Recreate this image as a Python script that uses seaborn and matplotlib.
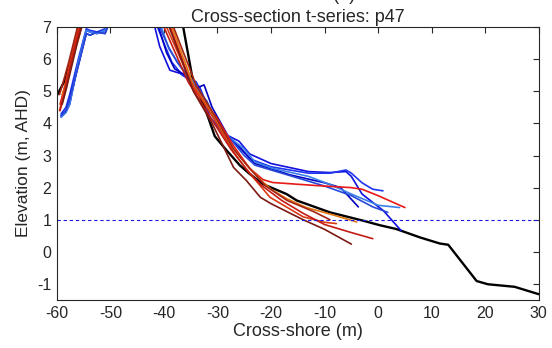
import numpy as np
import pandas as pd
import matplotlib
matplotlib.use("Agg")
import matplotlib.pyplot as plt
import seaborn as sns

# reference profile (black)
ref_x = [-60, -58.5, -57.5, -56.5, -55.8, -54, -40, -36.4, -34.6, -32.4, -30.5, -28.5,
         -25.8, -24, -21.5, -17.1, -15.2, -9, -2.8, 0.3, 3.4, 7.8, 11.5, 13.1, 18.4,
         20.5, 25.5, 30]
ref_z = [4.87, 5.34, 5.9, 6.6, 7.2, 8.5, 8.5, 7.0, 5.34, 4.5, 3.6, 3.2,
         2.69, 2.43, 2.11, 1.8, 1.6, 1.23, 0.97, 0.83, 0.71, 0.45, 0.26, 0.22, -0.91,
         -1.01, -1.09, -1.32]

# dune face (left) for each survey
dune_blue_x = [-59.2, -58.3, -57.6, -56.0, -54.5, -53.8, -52.5, -51.0, -50.3, -48, -44]
b1_z_dune = [4.2, 4.35, 4.6, 5.9, 6.9, 6.85, 6.8, 6.9, 7.2, 8.5, 8.5]
b2_z_dune = [4.3, 4.5, 4.9, 6.0, 6.95, 6.9, 6.85, 6.95, 7.2, 8.5, 8.5]
b3_z_dune = [4.25, 4.4, 4.75, 5.8, 6.8, 6.75, 6.85, 6.8, 7.1, 8.5, 8.5]
r1_dune_x = [-59.4, -58.6, -57.6, -56.6, -55.6, -53, -44]
r2_dune_x = [-59.0, -58.2, -57.2, -56.2, -55.2, -53, -44]
r3_dune_x = [-59.5, -58.8, -57.8, -56.9, -56.0, -53, -44]
r1_dune_z = [4.6, 5.1, 5.8, 6.5, 7.1, 8.5, 8.5]
r2_dune_z = [4.9, 5.3, 5.9, 6.5, 7.1, 8.5, 8.5]
r3_dune_z = [4.4, 4.9, 5.7, 6.4, 7.0, 8.5, 8.5]

# seaward part of each survey, earliest (blue) to latest (red)
b1_x = [-41.7, -40.8, -38.9, -37.0, -33.3, -32.7, -31.4, -29, -26, -24, -20, -13, -9, -6, -5, -3, 1, 4.3]
b1_z = [7.0, 6.4, 5.66, 5.56, 5.13, 4.82, 4.2, 3.7, 3.45, 3.05, 2.75, 2.5, 2.47, 2.5, 2.35, 1.8, 1.28, 0.66]
b2_x = [-41.2, -40, -38.5, -36.5, -34, -33, -31.5, -29, -26, -24, -20, -13, -9, -6, -5, -3, -1, 0.9]
b2_z = [7.0, 6.5, 5.9, 5.5, 5.3, 5.0, 4.4, 3.7, 3.3, 2.9, 2.65, 2.45, 2.45, 2.55, 2.45, 2.15, 1.95, 1.9]
b3_x = [-41.0, -39.5, -38.0, -36.0, -34, -32.5, -31, -28, -25, -23, -16.5, -10, -7, -3.7]
b3_z = [7.0, 6.2, 5.7, 5.5, 5.1, 5.2, 4.5, 3.6, 3.1, 2.75, 2.4, 2.15, 2.0, 1.4]
b4_x = [-40.5, -39, -37, -35, -33, -31, -28, -25, -23, -19.7, -13, -9, -5, 0, 4]
b4_z = [7.0, 6.3, 5.8, 5.4, 4.9, 4.3, 3.6, 3.2, 2.8, 2.6, 2.35, 2.1, 1.8, 1.45, 1.38]
b5_x = [-40.8, -39.2, -37.5, -35.5, -33.5, -32, -30, -27.5, -25, -23, -16, -10, -5, -1, 1.8]
b5_z = [7.0, 6.4, 5.9, 5.45, 5.0, 4.7, 4.0, 3.5, 3.0, 2.7, 2.35, 2.05, 1.75, 1.4, 1.23]

r1_x = [-38.8, -34.6, -30.2, -27, -24, -21.5, -19.7, -12, -5, -3, 0, 5]
r1_z = [7.0, 5.1, 4.2, 3.3, 2.6, 2.25, 2.16, 2.07, 2.0, 1.95, 1.75, 1.38]
r2_x = [-38.5, -34.5, -30.5, -27.5, -24.5, -22, -20, -17, -13.4, -7.8, -4]
r2_z = [7.0, 5.2, 4.2, 3.3, 2.7, 2.25, 1.95, 1.65, 1.38, 1.12, 0.93]
r3_x = [-39.5, -35, -30.5, -27, -24, -20.2, -14, -10, -7.8]
r3_z = [7.0, 5.3, 4.1, 3.1, 2.45, 1.7, 1.09, 0.92, 0.88]
r4_x = [-40, -35.5, -31, -27.5, -24.5, -22, -18, -14, -10, -5, -1]
r4_z = [7.0, 5.3, 4.1, 3.2, 2.55, 2.1, 1.6, 1.2, 0.85, 0.6, 0.41]
r5_x = [-39, -34.5, -31, -27, -24.6, -22, -20, -14, -10, -5]
r5_z = [7.0, 5.0, 4.0, 2.63, 2.22, 1.7, 1.5, 1.0, 0.7, 0.24]
r6_x = [-38.2, -34, -30, -27, -24, -21, -17, -12, -9]
r6_z = [7.0, 5.2, 4.1, 3.2, 2.6, 2.05, 1.6, 1.25, 1.0]

survey_colors = {
    "b1": "#1010e0", "b2": "#2035f0", "b3": "#0000c0", "b4": "#3a80e8", "b5": "#2848d8",
    "r1": "#e81818", "r2": "#e07410", "r3": "#d83a12", "r4": "#c41c14",
    "r5": "#7c1a12", "r6": "#a42414",
}

profiles = [
    ("b1", dune_blue_x, b1_z_dune, b1_x, b1_z),
    ("b2", dune_blue_x, b2_z_dune, b2_x, b2_z),
    ("b3", dune_blue_x, b3_z_dune, b3_x, b3_z),
    ("b4", dune_blue_x, b1_z_dune, b4_x, b4_z),
    ("b5", dune_blue_x, b3_z_dune, b5_x, b5_z),
    ("r1", r1_dune_x, r1_dune_z, r1_x, r1_z),
    ("r2", r2_dune_x, r2_dune_z, r2_x, r2_z),
    ("r3", r3_dune_x, r3_dune_z, r3_x, r3_z),
    ("r4", r1_dune_x, r3_dune_z, r4_x, r4_z),
    ("r5", r2_dune_x, r1_dune_z, r5_x, r5_z),
    ("r6", r3_dune_x, r2_dune_z, r6_x, r6_z),
]

rows = []
for name, dx, dz, xs, zs in profiles:
    for x, z in zip(list(dx) + list(xs), list(dz) + list(zs)):
        rows.append({"survey": name, "x": x, "z": z})
df = pd.DataFrame(rows)

sns.set_style("white")
plt.rcParams["font.family"] = ["Liberation Sans", "DejaVu Sans"]
plt.rcParams["axes.unicode_minus"] = False

fig = plt.figure(figsize=(5.52, 3.48), dpi=100)
ax = fig.add_axes([0.103, 0.138, 0.873, 0.784])

sns.lineplot(x=ref_x, y=ref_z, color="black", lw=1.7, sort=False, estimator=None, ax=ax)
sns.lineplot(data=df, x="x", y="z", hue="survey", palette=survey_colors, sort=False,
             estimator=None, units="survey", legend=False, lw=1.2, ax=ax)
ax.axhline(1, color="#1a1ae6", ls=(0, (3, 2.5)), lw=0.8)

ax.set_xlim(-60, 30)
ax.set_ylim(-1.5, 7)
ax.set_xticks(np.arange(-60, 31, 10))
ax.set_yticks(np.arange(-1, 8, 1))
ax.tick_params(direction="in", top=True, right=True, length=4, width=0.8,
               labelsize=11.5, colors="#262626", pad=4)
for s in ax.spines.values():
    s.set_linewidth(0.8)
    s.set_color("#262626")
ax.set_xlabel("Cross-shore (m)", fontsize=13, color="#262626", labelpad=2)
ax.set_ylabel("Elevation (m, AHD)", fontsize=12.5, color="#262626", labelpad=4)
ax.set_title("Cross-section t-series: p47", fontsize=13, color="#262626", pad=4)
# upper title line, cut off by the top edge in the original
fig.text(0.55, 1 - 0.5 / 348, "Profile 47 (a)", fontsize=13, color="#262626",
         ha="center", va="baseline")

fig.savefig("out.png", dpi=100)
